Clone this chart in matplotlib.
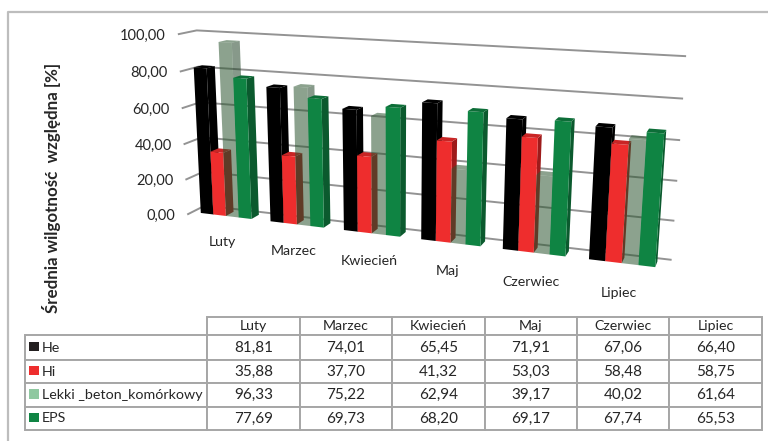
import numpy as np
import matplotlib
matplotlib.use("Agg")
import matplotlib.pyplot as plt
from matplotlib.patches import Rectangle
from mpl_toolkits.mplot3d import Axes3D  # noqa

months = ["Luty", "Marzec", "Kwiecień", "Maj", "Czerwiec", "Lipiec"]
series_names = ["He", "Hi", "Lekki _beton_komórkowy", "EPS"]
he = [81.81, 74.01, 65.45, 71.91, 67.06, 66.40]
hi = [35.88, 37.70, 41.32, 53.03, 58.48, 58.75]
lekki = [96.33, 75.22, 62.94, 39.17, 40.02, 61.64]
eps = [77.69, 69.73, 68.20, 69.17, 67.74, 65.53]
ticks = [0, 20, 40, 60, 80, 100]
ylabel = "Średnia wilgotność  względna [%]"

W, H = 768, 441
plt.rcParams["font.family"] = ["Lato", "DejaVu Sans"]
fig = plt.figure(figsize=(W / 100, H / 100), dpi=100, facecolor="white")
TXT = "#262626"
GRID = "#939393"

# camera of the 3-D axes, calibrated on the frame of the plot box
world = np.array([[0, 0, 0], [0, 1, 0], [6, 0, 0], [6, 1, 0], [0, 0, 100], [0, 1, 100],
                  [6, 1, 100], [6, 1, 80], [0, 0, 80], [0, 1, 80]], float)
pix = np.array([[189, 213], [203, 207], [667, 274], [672, 258], [176, 34], [198, 30],
                [686, 56], [683, 99], [180, 72], [199, 67]], float)
A, b = [], []
for (X, Y, Z), (u, v) in zip(world, pix):
    A.append([X, Y, Z, 1, 0, 0, 0, 0, -u * X, -u * Y, -u * Z]); b.append(u)
    A.append([0, 0, 0, 0, X, Y, Z, 1, -v * X, -v * Y, -v * Z]); b.append(v)
p = np.append(np.linalg.lstsq(np.array(A), np.array(b), rcond=None)[0], 1).reshape(3, 4)


def project(x, y, z):
    h = p @ np.array([x, y, z, 1.0])
    return h[0] / h[2], h[1] / h[2]


side = W / H
ax = fig.add_axes([0, 1 - side, 1, side], projection="3d", computed_zorder=False, anchor="NW")
ax.patch.set_visible(False)
vl = ax.viewLim
x0, x1, y0v, y1v = vl.x0, vl.x1, vl.y0, vl.y1
row_u = x0 * p[2] + (x1 - x0) / W * p[0]
row_v = y1v * p[2] - (y1v - y0v) / W * p[1]
row_d = np.array([-1 / 6, 1, -1 / 100, 0.5])
M = np.vstack([row_u, row_v, row_d, p[2]])
ax.get_proj = lambda: M

BAR_W = 0.183
OFFSET = 0.125
Y0, DY = 0.28, 0.45
styles = [
    dict(front="#000000", side="#000000", top="#000000", alpha=1.0),
    dict(front="#EE2D2D", side="#9E1B1B", top="#C92525", alpha=1.0),
    dict(front="#2E5732", side="#24462A", top="#2E5732", alpha=0.55),
    dict(front="#0F8443", side="#0B5A2E", top="#0D6E38", alpha=1.0),
]
xs = np.arange(len(months), dtype=float)
for k, (vals, st) in enumerate(zip([he, hi, lekki, eps], styles)):
    n = len(vals)
    face = [(0, 0, 0, 0), matplotlib.colors.to_rgba(st["top"], st["alpha"]),
            matplotlib.colors.to_rgba(st["front"], st["alpha"]), (0, 0, 0, 0),
            (0, 0, 0, 0), matplotlib.colors.to_rgba(st["side"], st["alpha"])]
    ax.bar3d(xs + OFFSET + k * BAR_W, np.full(n, Y0), np.zeros(n), BAR_W, DY, np.array(vals),
             color=face * n, shade=False, linewidth=0, zorder=3 + k)

# frame
for seg in ([[0, 0], [0, 0], [0, 100]], [[0, 0], [1, 1], [0, 100]], [[0, 6], [0, 0], [0, 0]],
            [[0, 6], [1, 1], [0, 0]], [[0, 0], [0, 1], [0, 0]], [[6, 6], [0, 1], [0, 0]]):
    ax.plot(*seg, color=GRID, lw=1.4, zorder=1)

ax.set_xlim(0, 6); ax.set_ylim(0, 1); ax.set_zlim(0, 100)
ax.set_xticks([]); ax.set_yticks([]); ax.set_zticks(ticks); ax.set_zticklabels([""] * len(ticks))
ax.grid(True)
ax.zaxis._axinfo["grid"].update(color=GRID, linewidth=1.4)
ax.zaxis._axinfo["tick"].update(inward_factor=0, outward_factor=0)
for a in (ax.xaxis, ax.yaxis, ax.zaxis):
    a.set_pane_color((1, 1, 1, 0))
    a.pane.set_edgecolor((1, 1, 1, 0))
    a.line.set_color((0, 0, 0, 0))

# overlay in figure pixels: border, labels, axis title, data table
tax = fig.add_axes([0, 0, 1, 1], zorder=5)
tax.set_xlim(0, W); tax.set_ylim(H, 0); tax.axis("off")
tax.plot([8, 8, W], [H, 12, 12], color="#BDBDBD", lw=1.6, solid_capstyle="butt")
tax.text(52, 188, ylabel, rotation=90, ha="center", va="center", fontsize=12.2, fontweight="bold",
         color=TXT)

for t in ticks:
    u, v = project(-0.17, 0, t)
    tax.text(u, v + 2.5, f"{t:.2f}".replace(".", ","), ha="right", va="center",
             fontsize=10.5, color=TXT)
for i, m in enumerate(months):
    u, v = project(i + 0.5, 0, -13.5)
    tax.text(u, v, m, ha="center", va="center", fontsize=10.2, color=TXT)

rows = [[""] + months]
for name, vals in zip(series_names, [he, hi, lekki, eps]):
    rows.append([name] + [f"{v:.2f}".replace(".", ",") for v in vals])
col_w = [182, 93, 92, 93, 92, 92, 93]
row_h = [18, 25, 23, 24, 23]
tab = tax.table(cellText=rows, colWidths=[c / 737 for c in col_w], cellLoc="center",
                bbox=[25 / W, 1 - 430 / H, 737 / W, 113 / H])
tab.auto_set_font_size(False)
for (r, c), cell in tab.get_celld().items():
    cell.set_height(row_h[r] / 113)
    cell.set_edgecolor("#A6A6A6")
    cell.set_linewidth(1.4)
    cell.set_fontsize(10.2 if r == 0 else (11 if c else 10.3))
    cell.get_text().set_color(TXT)
    if c == 0:
        cell.get_text().set_ha("left")
        cell.PAD = 0.093
tab[(0, 0)].visible_edges = "open"

sw_colors = ["#231F20", "#EE2D2D", "#8FC8A0", "#0F8443"]
top = 317 + row_h[0]
for h, col in zip(row_h[1:], sw_colors):
    tax.add_patch(Rectangle((29, top + h / 2 - 6), 10, 9.5, facecolor=col, edgecolor="none", zorder=6))
    top += h

fig.savefig("out.png", dpi=100)
